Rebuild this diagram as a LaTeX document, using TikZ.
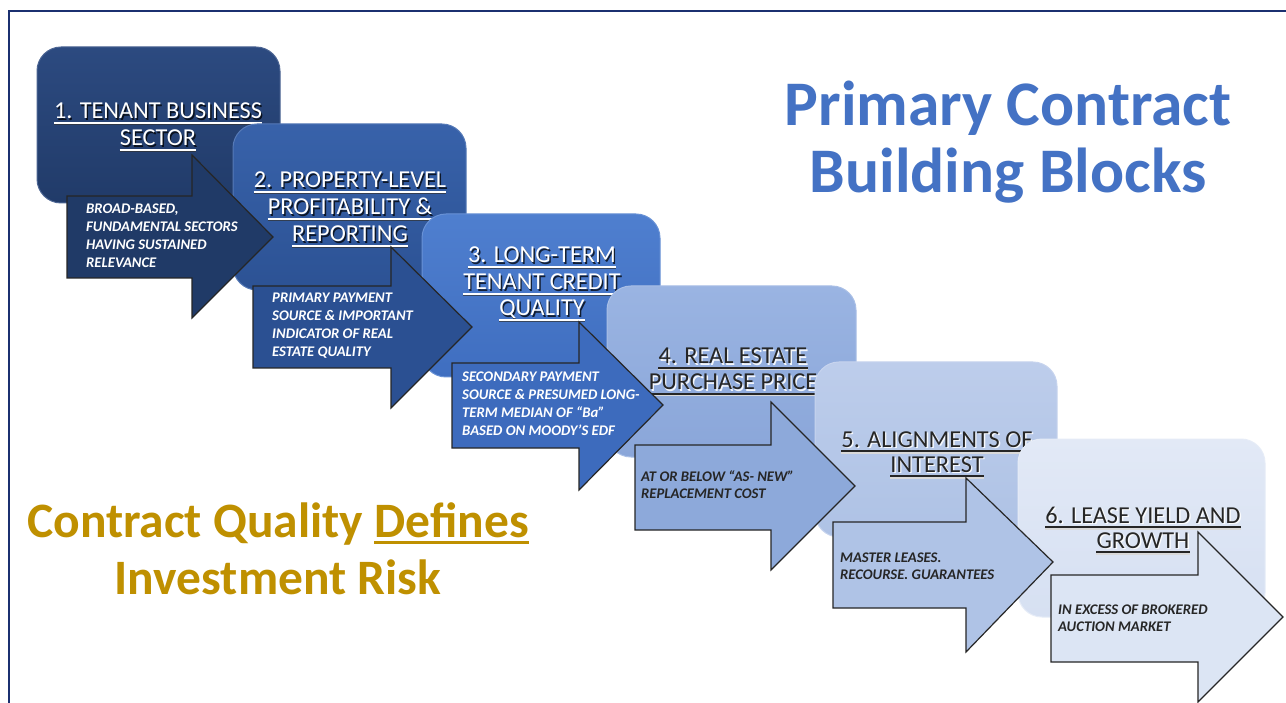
\documentclass[tikz,border=0pt]{standalone}
\usepackage{fontspec}
\setmainfont{Carlito}
\definecolor{frame}{HTML}{1B3070}
\definecolor{b1}{HTML}{213B69}\definecolor{b1t}{HTML}{2C4A80}
\definecolor{b2}{HTML}{2C5294}\definecolor{b2t}{HTML}{3862AA}
\definecolor{b3}{HTML}{3F6EC0}\definecolor{b3t}{HTML}{4F7FCF}
\definecolor{b4}{HTML}{8AA6D9}\definecolor{b4t}{HTML}{9AB4E2}
\definecolor{b5}{HTML}{AEC2E5}\definecolor{b5t}{HTML}{BDCDEB}
\definecolor{b6}{HTML}{D6E0F2}\definecolor{b6t}{HTML}{E2E9F6}
\definecolor{a1}{HTML}{203A67}
\definecolor{a2}{HTML}{2B5092}
\definecolor{a3}{HTML}{3D6BBD}
\definecolor{a4}{HTML}{8DA9DA}
\definecolor{a5}{HTML}{AFC3E6}
\definecolor{a6}{HTML}{DCE5F4}
\definecolor{bluettl}{HTML}{4472C4}
\definecolor{gold}{HTML}{BF9000}
\definecolor{darktxt}{HTML}{262626}
\newcommand\goldul[1]{\setbox0\hbox{#1}\rlap{\rule[-7pt]{\wd0}{3pt}}\box0}
\tikzset{
  blk/.style 2 args={rounded corners=24pt, top color=#1, bottom color=#2, draw=#1!85!white, line width=1pt},
  arr/.style={draw=black!85, line width=1.2pt, line join=miter},
  ttl/.style={anchor=base, inner sep=0pt, font=\fontsize{24.3}{27}\selectfont},
  ttw/.style={ttl, text=white},
  ttwsh/.style={ttl, text=black, opacity=0.75},
  ttd/.style={ttl, text=darktxt},
  ttdsh/.style={ttl, text=white, opacity=0.9},
  ulw/.style={draw=white, line width=1.8pt},
  ulwsh/.style={draw=black!80, line width=1.8pt, opacity=0.7},
  uld/.style={draw=darktxt, line width=1.8pt},
  uldsh/.style={draw=white!70!gray, line width=1.8pt},
  atxt/.style={anchor=base west, inner sep=0pt, font=\fontsize{14.7}{17.8}\selectfont\bfseries\itshape},
  bigttl/.style={anchor=base, inner sep=0pt, text=bluettl, font=\fontsize{63.5}{67}\selectfont\bfseries},
  goldttl/.style={anchor=base, inner sep=0pt, text=gold, font=\fontsize{49.5}{57}\selectfont\bfseries},
}
% #1 name, #2 w/d, #3 x, #4 y, #5 text
\newcommand\blkline[5]{%
  \node[tt#2sh] (#1s) at (#3+1.4,#4+1.4) {#5};
  \node[tt#2] (#1) at (#3,#4) {#5};
  \draw[ul#2sh] ([yshift=-5.6pt]#1.base west) -- ([yshift=-5.6pt]#1.base east);
  \draw[ul#2] ([yshift=-3.8pt]#1.base west) -- ([yshift=-3.8pt]#1.base east);
}
% #1 colour, #2 L, #3 T, #4 S, #5 HT, #6 HB, #7 tipx, #8 tipy, #9 B
\newcommand\bigarrow[9]{%
  \draw[arr, fill=#1] (#2,#3) -- (#4,#3) -- (#4,#5) -- (#7,#8) -- (#4,#6) -- (#4,#9) -- (#2,#9) -- cycle;
}
\begin{document}
\begin{tikzpicture}[x=1pt, y=-1pt]
\useasboundingbox (0,0) rectangle (1286,703);
\fill[white] (0,0) rectangle (1286,703);
\draw[frame, line width=2.6pt] (9,703) -- (9,11) -- (1286,11);

% titles
\node[bigttl] (mt1) at (1008,126) {Primary Contract};
\node[bigttl] (mt2) at (1008,193) {Building Blocks};
\node[goldttl] (gt1) at (278,537) {Contract Quality \goldul{Defines}};
\node[goldttl] (gt2) at (278,594) {Investment Risk};

% block 1
\path[blk={b1t}{b1}] (37,47) rectangle (280,203);
\blkline{t1a}{w}{158}{119}{1. TENANT BUSINESS}
\blkline{t1b}{w}{158}{146}{SECTOR}
% block 2
\path[blk={b2t}{b2}] (233,124) rectangle (466,290);
\blkline{t2a}{w}{350}{188}{2. PROPERTY-LEVEL}
\blkline{t2b}{w}{350}{215}{PROFITABILITY \&}
\blkline{t2c}{w}{350}{242}{REPORTING}
% arrow 1
\bigarrow{a1}{67}{196}{192}{155}{318}{273}{237}{278}
\node[atxt, text=white] (x1) at (86,214) {\begin{tabular}[t]{@{}l@{}}BROAD-BASED,\\FUNDAMENTAL SECTORS\\HAVING SUSTAINED\\RELEVANCE\end{tabular}};
% block 3
\path[blk={b3t}{b3}] (422,214) rectangle (660,377);
\blkline{t3a}{w}{542}{263}{3. LONG-TERM}
\blkline{t3b}{w}{542}{290}{TENANT CREDIT}
\blkline{t3c}{w}{542}{316}{QUALITY}
% arrow 2
\bigarrow{a2}{253}{286}{391}{247}{408}{472}{327}{368}
\node[atxt, text=white] (x2) at (272,303) {\begin{tabular}[t]{@{}l@{}}PRIMARY PAYMENT\\SOURCE \& IMPORTANT\\INDICATOR OF REAL\\ESTATE QUALITY\end{tabular}};
% block 4
\path[blk={b4t}{b4}] (607,286) rectangle (856,457);
\blkline{t4a}{d}{733}{364}{4. REAL ESTATE}
\blkline{t4b}{d}{733}{390}{PURCHASE PRICE}
% arrow 3
\bigarrow{a3}{452}{363}{579}{322}{490}{663}{405}{448}
\node[atxt, text=white] (x3) at (462,382) {\begin{tabular}[t]{@{}l@{}}SECONDARY PAYMENT\\SOURCE \& PRESUMED LONG-\\TERM MEDIAN OF “Ba”\\BASED ON MOODY’S EDF\end{tabular}};
% block 5
\path[blk={b5t}{b5}] (815,362) rectangle (1057,537);
\blkline{t5a}{d}{937}{447}{5. ALIGNMENTS OF}
\blkline{t5b}{d}{937}{472}{INTEREST}
% arrow 4
\bigarrow{a4}{635}{445}{771}{402}{570}{855}{486}{530}
\node[atxt, text=darktxt] (x4) at (641,481) {\begin{tabular}[t]{@{}l@{}}AT OR BELOW “AS- NEW”\\REPLACEMENT COST\end{tabular}};
% block 6
\path[blk={b6t}{b6}] (1018,439) rectangle (1265,617);
\blkline{t6a}{d}{1143}{523}{6. LEASE YIELD AND}
\blkline{t6b}{d}{1143}{548}{GROWTH}
% arrow 5
\bigarrow{a5}{833}{522}{966}{478}{652}{1053}{562}{608}
\node[atxt, text=darktxt] (x5) at (840,562) {\begin{tabular}[t]{@{}l@{}}MASTER LEASES.\\RECOURSE. GUARANTEES\end{tabular}};
% arrow 6
\bigarrow{a6}{1051}{575}{1198}{532}{702}{1283}{617}{662}
\node[atxt, text=darktxt] (x6) at (1058,614) {\begin{tabular}[t]{@{}l@{}}IN EXCESS OF BROKERED\\AUCTION MARKET\end{tabular}};
\end{tikzpicture}
\end{document}
